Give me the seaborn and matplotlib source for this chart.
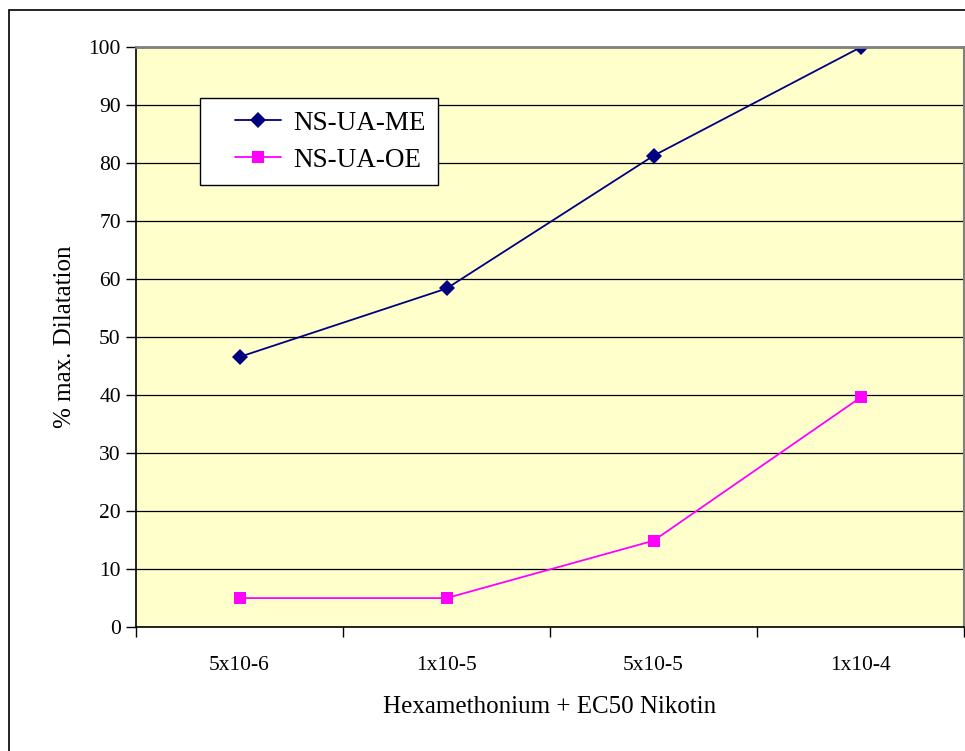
import numpy as np
import matplotlib
matplotlib.use("Agg")
import matplotlib.pyplot as plt
import matplotlib.ticker as ticker
from matplotlib.legend_handler import HandlerLine2D
import pandas as pd
import seaborn as sns

# data
concentrations = ["5x10-6", "1x10-5", "5x10-5", "1x10-4"]
ns_ua_me = [46.6, 58.4, 81.3, 100.0]
ns_ua_oe = [5.0, 5.0, 14.9, 39.6]
series_names = ["NS-UA-ME", "NS-UA-OE"]

df = pd.DataFrame({
    "pos": list(range(len(concentrations))) * 2,
    "value": ns_ua_me + ns_ua_oe,
    "series": [series_names[0]] * 4 + [series_names[1]] * 4,
})

sns.set_style("white")
plt.rcParams['font.family'] = ['Liberation Serif', 'DejaVu Serif']
for key in ["text.color", "axes.labelcolor", "xtick.color", "ytick.color"]:
    plt.rcParams[key] = "black"

fig = plt.figure(figsize=(9.65, 7.51), dpi=100)
ax = fig.add_axes([0.141, 0.165, 0.858, 0.772])
ax.set_facecolor("#FFFFCC")

# outer chart frame (cut off on right / bottom like the reference)
fig.patches.append(plt.Rectangle((0.0093, -0.05), 1.2, 1.037, transform=fig.transFigure,
                                 fill=False, edgecolor="black", linewidth=1.2, zorder=0))

sns.lineplot(data=df, x="pos", y="value", hue="series", style="series",
             palette={"NS-UA-ME": "#000080", "NS-UA-OE": "#FF00FF"},
             markers={"NS-UA-ME": "D", "NS-UA-OE": "s"}, dashes=False,
             markersize=8, markeredgewidth=0, linewidth=1.3, ax=ax)

ax.set_xlim(-0.5, 3.5)
ax.set_ylim(0, 100)
ax.yaxis.set_major_locator(ticker.MultipleLocator(10))
ax.grid(axis="y", color="black", linewidth=0.9)
ax.set_axisbelow(True)

ax.set_xticks(range(len(concentrations)))
ax.set_xticklabels(concentrations)
ax.xaxis.set_minor_locator(ticker.FixedLocator([-0.5, 0.5, 1.5, 2.5, 3.5]))
ax.tick_params(axis="x", which="major", length=0, pad=21, labelsize=15.5)
ax.tick_params(axis="x", which="minor", length=7, width=1, color="black", direction="out")
ax.tick_params(axis="y", length=7, width=1, color="black", direction="out", labelsize=15.5, pad=4)
ax.tick_params(left=True, bottom=True, which="both")

for side in ["left", "bottom"]:
    ax.spines[side].set_color("black")
    ax.spines[side].set_linewidth(1.2)
ax.spines["top"].set_color("#808080")
ax.spines["top"].set_linewidth(2)
ax.spines["right"].set_color("#808080")
ax.spines["right"].set_linewidth(1.5)

ax.set_xlabel("Hexamethonium + EC50 Nikotin", fontsize=18, labelpad=15)
ax.set_ylabel("% max. Dilatation", fontsize=18, labelpad=9)

handles, labels = ax.get_legend_handles_labels()
leg = ax.legend(handles, labels, loc="upper left", bbox_to_anchor=(0.0773, 0.912),
                fontsize=19.5, frameon=True, fancybox=False, shadow=False,
                borderaxespad=0, handlelength=2.55, handletextpad=0.45,
                borderpad=0.45, labelspacing=0.45,
                handler_map={h: HandlerLine2D(xpad=0.83) for h in handles})
leg.get_frame().set_edgecolor("black")
leg.get_frame().set_facecolor("white")
leg.get_frame().set_alpha(1)

fig.savefig("out.png", dpi=100)
